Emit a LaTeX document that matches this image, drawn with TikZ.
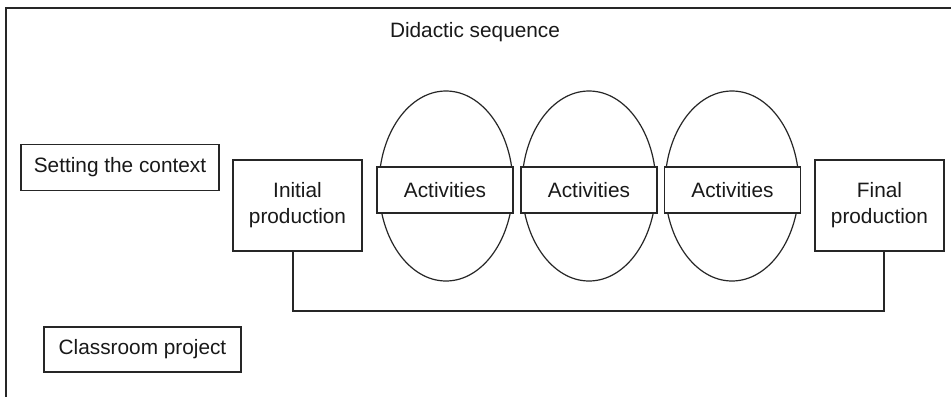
\documentclass[tikz,border=0pt]{standalone}
\usepackage{fontspec}
\setmainfont{Liberation Sans}
\usetikzlibrary{shapes.geometric}
\begin{document}
\begin{tikzpicture}[x=1pt,y=-1pt,
  line width=1.2pt, draw=black!85,
  every node/.style={font=\fontsize{20.8}{26}\selectfont, text=black!90},
  box/.style={draw, rectangle, inner sep=0pt, align=center},
  oval/.style={draw, ellipse, inner sep=0pt, minimum width=134pt, minimum height=190pt},
  actbox/.style={box, fill=white, minimum width=136pt, minimum height=46pt}]
\useasboundingbox (0,0) rectangle (951,397);
\fill[white] (0,0) rectangle (951,397);
\draw (951,8) -- (6,8) -- (6,397);
\node (title) at (475,32) {Didactic sequence};
\node[box, minimum width=198pt, minimum height=46pt] (ctx) at (120,167.5) {Setting the context};
\node[box, minimum width=129pt, minimum height=91pt] (init) at (297.5,205.5) {Initial\\production};
\node[box, minimum width=129pt, minimum height=91pt] (final) at (879.5,205.5) {Final\\production};
\node[box, minimum width=197pt, minimum height=45pt] (proj) at (142.5,349.5) {Classroom project};
\node[oval] (o1) at (446,186) {};
\node[oval] (o2) at (589,186) {};
\node[oval] (o3) at (732,186) {};
\node[actbox] (a1) at (445,190) {Activities};
\node[actbox] (a2) at (589,190) {Activities};
\node[actbox] (a3) at (732.5,190) {Activities};
\coordinate (bus) at (0,311);
\coordinate (s1) at ([xshift=-4.5pt]init.south);
\coordinate (s2) at ([xshift=4.5pt]final.south);
\draw (s1) -- (s1 |- bus) -- (s2 |- bus) -- (s2);
\end{tikzpicture}
\end{document}
